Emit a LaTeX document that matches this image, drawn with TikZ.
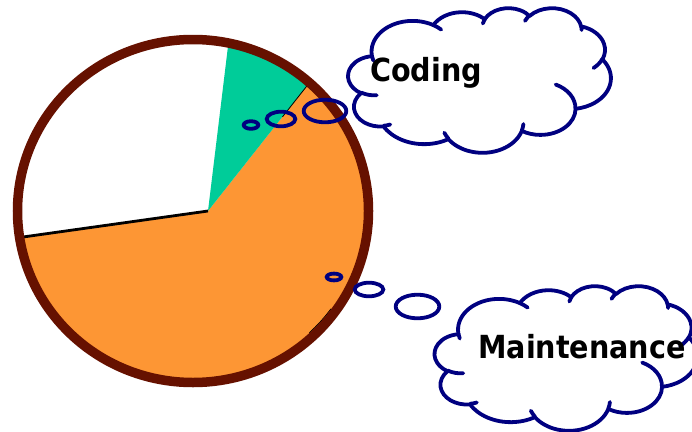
\documentclass[tikz,border=0pt]{standalone}
\usepackage{fontspec}
\newfontfamily\lblfont{DejaVu Sans}[FakeStretch=0.9]
\definecolor{pieorange}{RGB}{253,150,52}
\definecolor{piegreen}{RGB}{0,204,153}
\definecolor{rimbrown}{RGB}{102,17,0}
\definecolor{inknavy}{RGB}{0,0,128}
\tikzset{
  % elliptic arc given by radii, polar start angle and polar sweep
  carc/.style n args={4}{insert path={
    arc[start angle={#3+atan2((#1-#2)*sin(#3)*cos(#3),#2*cos(#3)^2+#1*sin(#3)^2)},
        delta angle={#4+atan2((#1-#2)*sin(#3+#4)*cos(#3+#4),#2*cos(#3+#4)^2+#1*sin(#3+#4)^2)-atan2((#1-#2)*sin(#3)*cos(#3),#2*cos(#3)^2+#1*sin(#3)^2)},
        x radius=#1, y radius=#2]}},
  cloudline/.style={draw=inknavy, line width=3.8pt, line join=round, line cap=round},
  bubble/.style={draw=inknavy, line width=3.8pt},
  rim/.style={draw=rimbrown, line width=9.5pt},
  cloudtext/.style={inner sep=0pt, anchor=base west,
    font=\lblfont\bfseries\fontsize{31.8}{36}\selectfont},
  % thought cloud on a 43.2 x 43.2 grid
  pics/thoughtcloud/.style={code={
    \draw[cloudline, fill=white] (3.900,14.370)
      [carc={6.753}{9.190}{-190.4875}{123.7805}]
      [carc={5.333}{7.267}{-144.1024}{89.9452}]
      [carc={4.365}{5.945}{-145.8079}{99.7230}]
      [carc={4.857}{6.595}{-130.9861}{117.2417}]
      [carc={5.333}{7.273}{-78.7089}{109.0269}]
      [carc={6.775}{9.220}{-46.2673}{130.2690}]
      [carc={5.785}{7.867}{0.6250}{114.0333}]
      [carc={6.752}{9.215}{22.4516}{115.1726}]
      [carc={7.720}{10.543}{66.2426}{75.7110}]
      [carc={4.360}{5.918}{-274.9421}{146.7356}]
      [carc={4.345}{5.945}{-246.8285}{152.5189}] -- cycle;
    \draw[cloudline]
      (4.693,26.177) [carc={4.345}{5.945}{86.7420}{26.4295}]
      (6.928,34.899) [carc={4.360}{5.918}{73.6105}{11.4475}]
      (16.478,39.090) [carc={6.752}{9.215}{137.6242}{14.0811}]
      (28.827,34.751) [carc={6.752}{9.215}{6.4533}{15.9984}]
      (34.129,22.954) [carc={5.785}{7.867}{-70.2924}{70.9174}]
      (41.798,15.354) [carc={5.333}{7.273}{30.3180}{27.7515}]
      (38.324,5.426) [carc={4.857}{6.595}{-13.7443}{14.8589}]
      (29.078,3.952) [carc={4.857}{6.595}{-149.1815}{18.1954}]
      (22.141,4.720) [carc={4.365}{5.945}{-163.4943}{17.6864}]
      (14.000,5.192) [carc={6.753}{9.190}{-66.7070}{12.3194}]
      (4.127,15.789) [carc={6.753}{9.190}{157.6544}{11.8582}];
  }}
}
\begin{document}
\begin{tikzpicture}[x=1pt, y=-1pt]
  \useasboundingbox (0,0) rectangle (692,431);
  \clip (0,0) rectangle (692,431);

  \coordinate (apex) at (208,211);
  \coordinate (rimc) at (193,211);

  % pie slices
  \begin{scope}
    \clip (rimc) ellipse[x radius=175.5, y radius=171.5];
    \fill[white] (rimc) ellipse[x radius=176, y radius=172];
    \fill[pieorange] (apex) -- (404,-37) -- (520,-37) -- (520,520)
      -- (-162,520) -- (-162,263) -- cycle;
    \fill[piegreen] (apex) -- (250,-135) -- (404,-135) -- (404,-37) -- cycle;
    \draw[line width=2.8pt] (apex) -- (-162,263);
    \draw[line width=0.8pt] (282.5,116.8) -- (404,-37);
    \draw[line width=0.8pt] (rimc) ++(36:170.5 and 166.5)
      arc[start angle=36, end angle=47, x radius=170.5, y radius=166.5];
  \end{scope}
  \draw[rim] (rimc) ellipse[x radius=175.5, y radius=171.5];

  % thought bubbles
  \draw[bubble] (251,125) ellipse[x radius=7.3, y radius=3.8];
  \draw[bubble] (281,119) ellipse[x radius=14.3, y radius=7.3];
  \draw[bubble] (325,111) ellipse[x radius=21.3, y radius=11.3];
  \draw[bubble] (334,277) ellipse[x radius=7.3, y radius=3.4];
  \draw[bubble] (369,289.5) ellipse[x radius=14.3, y radius=6.8];
  \draw[bubble] (417.5,306.5) ellipse[x radius=21.8, y radius=11.8];

  % clouds
  \pic[shift={(348.2,7.7)}, xscale=6.079, yscale=3.347] {thoughtcloud};
  \pic[shift={(434.7,285.7)}, xscale=6.079, yscale=3.347] {thoughtcloud};

  \node[cloudtext] (coding) at (370,81) {Coding};
  \node[cloudtext] (maint) at (478,358) {Maintenance};
\end{tikzpicture}
\end{document}
